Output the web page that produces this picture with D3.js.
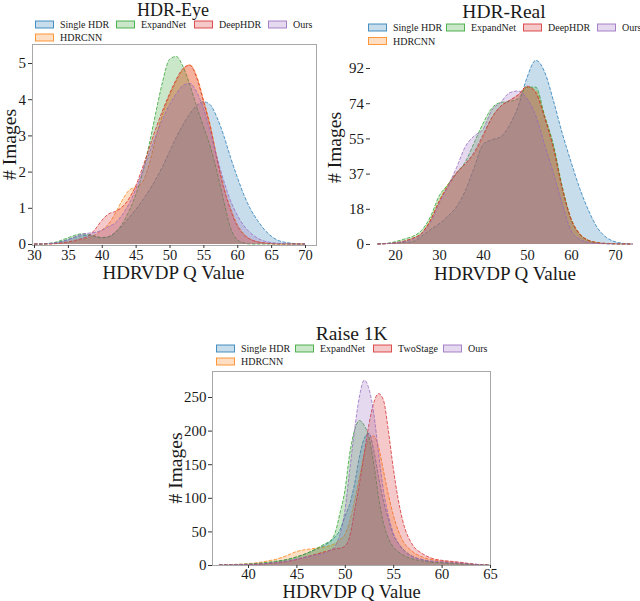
<!DOCTYPE html>
<html><head><meta charset="utf-8">
<script src="https://cdn.jsdelivr.net/npm/d3@7"></script>
<style>
html,body{margin:0;padding:0;background:#fff;}
svg{display:block;}
text{font-family:"Liberation Serif","DejaVu Serif",serif;fill:#1a1a1a;}
</style></head>
<body>
<svg id="chart" width="640" height="601"></svg>
<script>
// ---------- DATA ----------
const seriesNames = ["Single HDR","HDRCNN","ExpandNet","DeepHDR","Ours"];
const raiseNames  = ["Single HDR","HDRCNN","ExpandNet","TwoStage","Ours"];
const seriesColors = ["#1f77b4","#ff7f0e","#2ca02c","#d62728","#9467bd"];

// HDR-Eye
const eyeQ = [30,31,32,33,34,35,36,37,38,39,40,41,42,43,44,45,46,47,48,49,50,51,52,53,54,55,56,57,58,59,60,61,62,63,64,65,66,67,68,69,70];
const eyeSingleHDR = [0,0,0.01,0.03,0.07,0.12,0.18,0.23,0.24,0.2,0.17,0.2,0.32,0.5,0.72,0.95,1.2,1.48,1.8,2.15,2.55,2.95,3.3,3.6,3.82,3.93,3.85,3.5,3.0,2.4,1.85,1.35,0.95,0.65,0.4,0.22,0.1,0.05,0.02,0.005,0];
const eyeHDRCNN    = [0,0,0,0.01,0.02,0.05,0.08,0.12,0.17,0.25,0.38,0.55,0.85,1.2,1.48,1.58,1.7,2.2,2.95,3.6,4.1,4.5,4.82,4.95,4.65,4.0,3.3,2.4,1.6,1.0,0.55,0.28,0.13,0.06,0.03,0.01,0,0,0,0,0];
const eyeExpandNet = [0,0,0.01,0.04,0.1,0.17,0.24,0.28,0.27,0.22,0.18,0.2,0.32,0.55,0.9,1.35,1.95,2.75,3.65,4.5,5.1,5.18,4.9,4.4,3.8,3.25,2.7,2.0,1.2,0.45,0.12,0.03,0,0,0,0,0,0,0,0,0];
const eyeDeepHDR   = [0,0,0,0.01,0.03,0.06,0.1,0.15,0.22,0.4,0.65,0.83,0.9,1.02,1.25,1.6,2.1,2.65,3.2,3.7,4.15,4.55,4.85,4.94,4.6,3.95,3.25,2.35,1.55,0.95,0.5,0.25,0.12,0.06,0.03,0.01,0,0,0,0,0];
const eyeOurs      = [0,0,0.01,0.03,0.06,0.12,0.2,0.27,0.3,0.32,0.38,0.48,0.58,0.8,1.1,1.5,2.0,2.5,3.0,3.45,3.85,4.15,4.38,4.44,4.2,3.75,3.1,2.4,1.75,1.2,0.8,0.5,0.3,0.16,0.08,0.04,0.02,0.01,0,0,0];
const eyeXTicks = [30,35,40,45,50,55,60,65,70];
const eyeYTicks = [0,1,2,3,4,5];

// HDR-Real
const realQ = [16,18,20,22,24,26,28,30,32,34,36,38,40,42,44,46,48,50,52,54,56,58,60,62,64,66,68,70,72,74];
const realSingleHDR = [0,0.2,0.5,0.8,1.2,4,7.5,10.5,14.5,19.5,28,40,52,54.5,56,62,72,87,96,90,75,58,43,29,17.5,8.5,3.5,1.2,0.3,0];
const realHDRCNN    = [0,0.2,0.5,1.4,3,5.5,12.5,22.5,31,37.5,42,47,56,66,72,75,78,82,80,67,51,30,13.5,5.5,2,0.8,0.3,0.1,0,0];
const realExpandNet = [0,0.3,1.2,2.5,4,7,14,25,31,37,43,53,63,71,74,74.5,76,82,82,67,52,30,13,5,1.8,0.6,0.2,0.05,0,0];
const realDeepHDR   = [0,0.2,0.6,1.5,3,5.5,12,22,30,37,42,48,57,66,72,75,78,82.5,79,66,50,29,13,5,1.8,0.7,0.3,0.1,0,0];
const realOurs      = [0,0.2,0.5,1.2,2.5,5,11,21,30,40,51,56.5,60,70,74,79,80,76,67,52,37,21,7,2.5,0.8,0.3,0.1,0,0,0];
const realXTicks = [20,30,40,50,60,70];
const realYTicks = [0,18.4,36.8,55.2,73.6,92];
const realYTickLabels = ["0","18","37","55","74","92"];

// Raise 1K
const raiseQ = [37,38,40,41,42,43,44,45,46,47,48,48.5,49,49.5,50,50.5,51,51.5,52,52.5,53,53.5,54,54.5,55,55.5,56,57,58,59,60,61,62,63,64,65];
const raiseSingleHDR = [0,0.3,1,2,3,5,8,12,17,23,30,35,42,52,72,90,120,160,188,196,170,130,95,68,45,33,24,13,8,5,4,3,2,1,0.5,0];
const raiseHDRCNN    = [0,0.5,2,3.5,6,9,14,20,23,25,27,29,32,38,45,65,95,130,165,188,192,175,140,105,75,52,36,20,12,8,6,4.5,3,1.5,0.5,0];
const raiseExpandNet = [0,0.5,1.5,2.5,4,6,8,12,17,24,32,36,48,77,110,165,200,215,208,190,150,100,62,40,27,20,15,9,6,4,3,2,1.5,1,0.5,0];
const raiseTwoStage  = [0,0.2,0.5,1,2,3.5,5,8,12,16,20,22,24,25,28,42,80,120,165,210,242,255,245,200,145,99,65,30,17,10,7,5.5,4,2,0.5,0];
const raiseOurs      = [0,0.3,1,1.5,2.5,4,6,9,12,15,18,22,28,45,80,140,200,250,275,262,225,165,110,74,48,33,22,12,8,6,5,4,3,1.5,0.5,0];
const raiseXTicks = [40,45,50,55,60,65];
const raiseYTicks = [0,50,100,150,200,250];

const titles = ["HDR-Eye","HDR-Real","Raise 1K"];
const xLabel = "HDRVDP Q Value";
const yLabel = "# Images";

// ---------- DRAW ----------
const svg = d3.select("#chart");

function drawPanel(cfg){
  const g = svg.append("g");
  const x = d3.scaleLinear().domain(cfg.xDomain).range(cfg.xRange);
  const y = d3.scaleLinear().domain(cfg.yDomain).range(cfg.yRange);
  const clipId = "clip" + cfg.id;
  if (cfg.frame){
    g.append("clipPath").attr("id", clipId).append("rect")
      .attr("x", cfg.frame[0]).attr("y", cfg.frame[1])
      .attr("width", cfg.frame[2]-cfg.frame[0]).attr("height", cfg.frame[3]-cfg.frame[1]);
  }
  const plot = g.append("g");
  if (cfg.frame) plot.attr("clip-path", `url(#${clipId})`);
  const area = d3.area().x((d)=>x(d[0])).y0(y(0)).y1((d)=>y(d[1])).curve(d3.curveMonotoneX);
  const line = d3.line().x((d)=>x(d[0])).y((d)=>y(d[1])).curve(d3.curveMonotoneX);
  cfg.series.forEach((vals,i)=>{
    const pts = cfg.xs.map((q,j)=>[q, vals[j]]);
    plot.append("path").attr("d", area(pts))
      .attr("fill", seriesColors[i]).attr("fill-opacity", 0.25).attr("stroke","none");
    plot.append("path").attr("d", line(pts))
      .attr("fill","none").attr("stroke", seriesColors[i]).attr("stroke-opacity",0.75)
      .attr("stroke-width",1).attr("stroke-dasharray","3.5,1.5");
  });
  if (cfg.frame){
    g.append("rect").attr("x", cfg.frame[0]+0.5).attr("y", cfg.frame[1]+0.5)
      .attr("width", cfg.frame[2]-cfg.frame[0]-1).attr("height", cfg.frame[3]-cfg.frame[1])
      .attr("fill","none").attr("stroke","#a8a8a8").attr("stroke-width",1);
  }
  // x axis
  const xa = d3.axisBottom(x).tickValues(cfg.xTicks).tickSize(cfg.xTickSize).tickPadding(cfg.xTickPad).tickFormat(d3.format("d"));
  const xg = g.append("g").attr("transform",`translate(0,${cfg.xAxisY})`).call(xa);
  xg.select(".domain").remove();
  xg.selectAll("line").attr("stroke","#333");
  xg.selectAll("text").style("font-size", cfg.xTickFont || "15px").style("font-family",'"Liberation Serif",serif').attr("fill","#1a1a1a");
  // y axis
  const ya = d3.axisLeft(y).tickValues(cfg.yTicks).tickSize(4).tickPadding(cfg.yTickPad)
    .tickFormat((d,i)=> cfg.yTickLabels ? cfg.yTickLabels[i] : d3.format("d")(d));
  const yg = g.append("g").attr("transform",`translate(${cfg.yAxisX},0)`).call(ya);
  yg.select(".domain").remove();
  yg.selectAll("line").attr("stroke","#333");
  yg.selectAll("text").style("font-size","15px").style("font-family",'"Liberation Serif",serif').attr("fill","#1a1a1a");
  // labels
  g.append("text").attr("x", cfg.xLabelPos[0]).attr("y", cfg.xLabelPos[1])
    .attr("text-anchor","middle").style("font-size", cfg.xLabelFont || "19px").text(xLabel);
  g.append("text").attr("transform",`translate(${cfg.yLabelPos[0]},${cfg.yLabelPos[1]}) rotate(-90)`)
    .attr("text-anchor","middle").style("font-size","19.5px").text(yLabel);
  g.append("text").attr("x", cfg.titlePos[0]).attr("y", cfg.titlePos[1])
    .attr("text-anchor","middle").style("font-size", cfg.titleFont || "20px").text(cfg.title);
  // legend (matplotlib ncol=4 column-major order)
  const order = [0,2,3,4,1];
  order.forEach((si,k)=>{
    const col = k < 4 ? k : 0;
    const row = k < 4 ? 0 : 1;
    const sx = cfg.legendCols[col];
    const sy = cfg.legendRows[row];
    g.append("rect").attr("x", sx+0.5).attr("y", sy+0.5).attr("width",18).attr("height",7)
      .attr("fill", seriesColors[si]).attr("fill-opacity",0.25)
      .attr("stroke", seriesColors[si]).attr("stroke-opacity",0.8).attr("stroke-width",1);
    g.append("text").attr("x", sx+25).attr("y", sy+7.5)
      .style("font-size","10px").text(cfg.names[si]);
  });
}

drawPanel({
  id:1, title:titles[0], names:seriesNames,
  xs:eyeQ, series:[eyeSingleHDR,eyeHDRCNN,eyeExpandNet,eyeDeepHDR,eyeOurs],
  xDomain:[30,70], xRange:[34,305], yDomain:[0,5], yRange:[244,63],
  frame:[32,44,317,245],
  xTicks:eyeXTicks, xTickSize:3, xTickPad:2, xAxisY:245, xTickFont:"14.5px",
  yTicks:eyeYTicks, yTickPad:2, yAxisX:32,
  xLabelPos:[173.5,279], yLabelPos:[16,144.5], titlePos:[173,16.2], titleFont:"18px",
  legendCols:[35,116,194,268], legendRows:[20.5,33.5]
});

drawPanel({
  id:2, title:titles[1], names:seriesNames,
  xs:realQ, series:[realSingleHDR,realHDRCNN,realExpandNet,realDeepHDR,realOurs],
  xDomain:[20,70], xRange:[395,615], yDomain:[0,92], yRange:[244,68],
  frame:null,
  xTicks:realXTicks, xTickSize:0, xTickPad:6, xAxisY:244, xTickFont:"14.5px",
  yTicks:realYTicks, yTickLabels:realYTickLabels, yTickPad:2, yAxisX:370,
  xLabelPos:[505,280], yLabelPos:[341,147.5], titlePos:[504,18], titleFont:"19.5px",
  legendCols:[368,446,523,597], legendRows:[23.5,37]
});

drawPanel({
  id:3, title:titles[2], names:raiseNames,
  xs:raiseQ, series:[raiseSingleHDR,raiseHDRCNN,raiseExpandNet,raiseTwoStage,raiseOurs],
  xDomain:[40,65], xRange:[248,490], yDomain:[0,250], yRange:[565,397],
  frame:[212,371,491,565],
  xTicks:raiseXTicks, xTickSize:3, xTickPad:1, xAxisY:565, xTickFont:"14.5px",
  yTicks:raiseYTicks, yTickPad:1.5, yAxisX:212,
  xLabelPos:[351.7,597.5], xLabelFont:"18.5px", yLabelPos:[182,468], titlePos:[351.7,340], titleFont:"19.5px",
  legendCols:[216,295,373,443], legendRows:[344.5,357.5]
});
</script>
</body></html>
